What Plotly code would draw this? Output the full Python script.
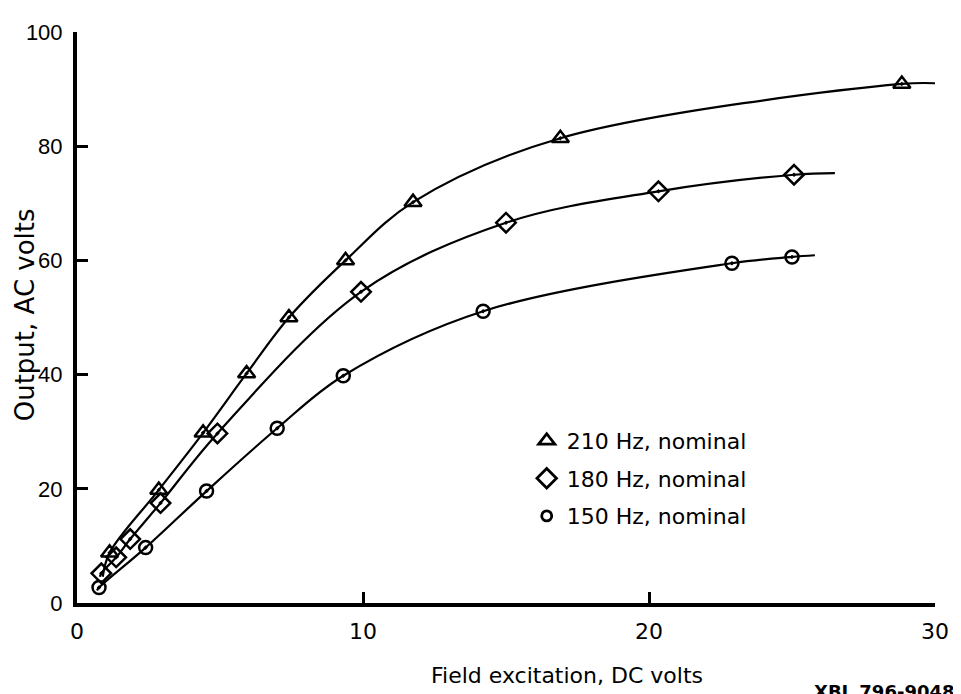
import plotly.graph_objects as go

# ---- data ----
x_210 = [1.14, 2.86, 4.41, 5.93, 7.41, 9.39, 11.75, 16.9, 28.84]
y_210 = [8.8, 19.8, 29.8, 40.2, 50.0, 60.0, 70.2, 81.4, 90.9]

x_180 = [0.85, 1.37, 1.86, 2.92, 4.91, 9.93, 15.0, 20.33, 25.07]
y_180 = [5.2, 8.0, 11.2, 17.5, 29.7, 54.5, 66.6, 72.1, 75.0]

x_150 = [0.77, 2.4, 4.53, 7.0, 9.31, 14.2, 22.9, 25.0]
y_150 = [2.7, 9.7, 19.6, 30.6, 39.8, 51.1, 59.5, 60.6]

# fitted-curve end extensions (start point, end point)
ext_210 = [(0.9, 4.6), (30.1, 91.0)]
ext_180 = [(0.8, 4.6), (26.5, 75.3)]
ext_150 = [(0.7, 2.2), (25.8, 60.9)]

labels = ["210 Hz, nominal", "180 Hz, nominal", "150 Hz, nominal"]
x_ticks = [0, 10, 20, 30]
y_ticks = [0, 20, 40, 60, 80, 100]

ARIAL = "Liberation Sans, Arial, Helvetica, sans-serif"
WIDE = "DejaVu Sans, Verdana, sans-serif"

# page is drawn with an 8px body margin; plot area in page pixels:
PL, PR, PT, PB = 77, 947, 23, 603
W, H = 961 - 8, 694 - 8
pw, ph = PR - PL, PB - PT


def px(xp):
    return (xp - PL) / pw


def py(yp):
    return (PB - yp) / ph


fig = go.Figure()

series = [
    (x_210, y_210, ext_210, "triangle-up-open-dot", 15),
    (x_180, y_180, ext_180, "diamond-open-dot", 15),
    (x_150, y_150, ext_150, "circle-open-dot", 13),
]

for xs, ys, ext, sym, sz in series:
    cx = [ext[0][0]] + xs + [ext[1][0]]
    cy = [ext[0][1]] + ys + [ext[1][1]]
    fig.add_trace(go.Scatter(x=cx, y=cy, mode="lines",
                             line=dict(color="black", width=2.2, shape="spline", smoothing=1.0),
                             showlegend=False, hoverinfo="skip"))
    fig.add_trace(go.Scatter(x=xs, y=ys, mode="markers",
                             marker=dict(symbol=sym, size=sz, color="black",
                                         line=dict(color="black", width=2.5)),
                             showlegend=False))

leg_syms = [("triangle-up-open", 14), ("diamond-open", 15), ("circle-open", 10)]
for i, (lab, (sym, sz)) in enumerate(zip(labels, leg_syms)):
    fig.add_trace(go.Scatter(x=[None], y=[None], mode="markers", name=lab,
                             legendgroup=str(i),
                             marker=dict(symbol=sym, size=sz, color="black",
                                         line=dict(color="black", width=2.8))))

fig.update_layout(
    width=W, height=H, autosize=False,
    margin=dict(l=PL - 8, r=W - (PR - 8), t=PT - 8, b=H - (PB - 8), pad=0),
    paper_bgcolor="white", plot_bgcolor="white",
    font=dict(family=ARIAL, size=20, color="black"),
    showlegend=True,
    legend=dict(x=px(533), y=py(417), xanchor="left", yanchor="top",
                bgcolor="rgba(0,0,0,0)", borderwidth=0,
                font=dict(size=22, family=WIDE),
                traceorder="grouped", tracegroupgap=6, itemsizing="trace"),
    xaxis=dict(range=[0, 30], tickvals=x_ticks, showgrid=False, zeroline=False,
               showline=True, linecolor="black", linewidth=4,
               ticks="inside", ticklen=11, tickwidth=2.5, tickcolor="black",
               ticklabelstandoff=6,
               tickfont=dict(size=22, family=WIDE)),
    yaxis=dict(range=[0, 100], tickvals=y_ticks, showgrid=False, zeroline=False,
               showline=True, linecolor="black", linewidth=4,
               ticks="inside", ticklen=11, tickwidth=2.5, tickcolor="black",
               ticklabelstandoff=6,
               tickfont=dict(size=22, family=ARIAL)),
    annotations=[
        dict(text="Field excitation, DC volts", xref="paper", yref="paper",
             x=px(574), y=py(677), xanchor="center", yanchor="middle",
             showarrow=False, font=dict(size=22, family=WIDE)),
        dict(text="Output, AC volts", xref="paper", yref="paper",
             x=px(24), y=py(310), xanchor="center", yanchor="middle",
             textangle=-90, showarrow=False, font=dict(size=26, family=WIDE)),
        dict(text="<b>XBL 796-9048</b>", xref="paper", yref="paper",
             x=px(822), y=py(680), xanchor="left", yanchor="top",
             showarrow=False, font=dict(size=18, family=WIDE)),
    ],
)

fig.write_html("out.html")
